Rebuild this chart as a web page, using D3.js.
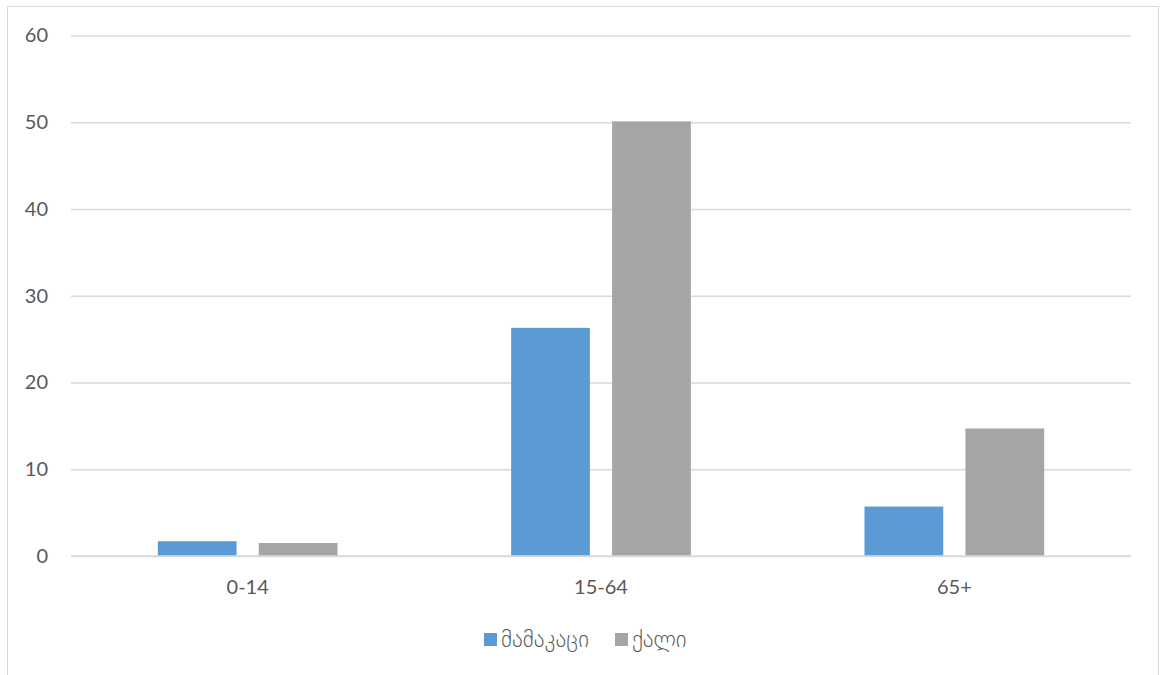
<!DOCTYPE html>
<html>
<head>
<meta charset="utf-8">
<script src="https://cdn.jsdelivr.net/npm/d3@7"></script>
<style>
  body { margin: 0; background: #fff; }
  text { font-family: Lato, "DejaVu Sans", sans-serif; fill: #595959; }
</style>
</head>
<body>
<div id="chart"></div>
<script>
// age groups and the two series (male / female)
var categories = ['0-14', '15-64', '65+'];
var seriesNames = ['მამაკაცი', 'ქალი'];
var maleValues = [1.7, 26.3, 5.7];
var femaleValues = [1.5, 50.1, 14.7];
var yTicks = [0, 10, 20, 30, 40, 50, 60];
var colors = ['#5b9bd5', '#a5a5a5'];

var width = 1162, height = 675;
var margin = {top: 35.5, right: 31, bottom: 119, left: 71};

var svg = d3.select('#chart').append('svg')
	.attr('width', width)
	.attr('height', height);

// chart frame
svg.append('rect')
	.attr('x', 7.5).attr('y', 6.5)
	.attr('width', 1151).attr('height', 680)
	.attr('fill', 'none')
	.attr('stroke', '#d9d9d9');

var data = categories.map(function(c, i) {
	return {cat: c, values: [maleValues[i], femaleValues[i]]};
});

var x0 = d3.scaleBand().domain(categories)
	.range([margin.left, width - margin.right]);
var x1 = d3.scaleBand().domain(seriesNames)
	.range([0, x0.bandwidth()])
	.paddingInner(0.22).paddingOuter(0.86);
var y = d3.scaleLinear().domain([0, 60])
	.range([height - margin.bottom, margin.top]);

var g = svg.append('g');

// gridlines
g.append('g')
	.attr('transform', 'translate(' + margin.left + ',0)')
	.call(d3.axisLeft(y).tickValues(yTicks).tickSize(-(width - margin.left - margin.right)).tickFormat(''))
	.call(function(a) { a.select('.domain').remove(); })
	.selectAll('line')
	.attr('stroke', '#d9d9d9')
	.attr('stroke-width', 1.3);

// y labels
g.append('g')
	.attr('transform', 'translate(' + margin.left + ',0)')
	.call(d3.axisLeft(y).tickValues(yTicks).tickSize(0).tickPadding(23))
	.call(function(a) { a.select('.domain').remove(); })
	.selectAll('text')
	.style('font-size', '20px');

// bars
var groups = g.selectAll('.grp')
	.data(data)
	.enter().append('g')
	.attr('class', 'grp')
	.attr('transform', function(d) { return 'translate(' + x0(d.cat) + ',0)'; });

groups.selectAll('rect')
	.data(function(d) { return d.values.map(function(v, i) { return {name: seriesNames[i], v: v, i: i}; }); })
	.enter().append('rect')
	.attr('x', function(d) { return x1(d.name); })
	.attr('y', function(d) { return y(d.v); })
	.attr('width', x1.bandwidth())
	.attr('height', function(d) { return y(0) - y(d.v); })
	.attr('fill', function(d) { return colors[d.i]; });

// baseline
g.append('line')
	.attr('x1', margin.left).attr('x2', width - margin.right)
	.attr('y1', y(0)).attr('y2', y(0))
	.attr('stroke', '#d9d9d9')
	.attr('stroke-width', 1.3);

// x labels
g.append('g')
	.attr('transform', 'translate(0,' + y(0) + ')')
	.call(d3.axisBottom(x0).tickSize(0).tickPadding(24))
	.call(function(a) { a.select('.domain').remove(); })
	.selectAll('text')
	.style('font-size', '20px');

// legend
var legend = svg.append('g');
var legendX = [484, 615];
seriesNames.forEach(function(name, i) {
	legend.append('rect')
		.attr('x', legendX[i]).attr('y', 633)
		.attr('width', 13).attr('height', 13)
		.attr('fill', colors[i]);
	legend.append('text')
		.attr('x', legendX[i] + 17).attr('y', 647)
		.style('font-size', '23px')
		.style('font-weight', '300')
		.text(name);
});
</script>
</body>
</html>
